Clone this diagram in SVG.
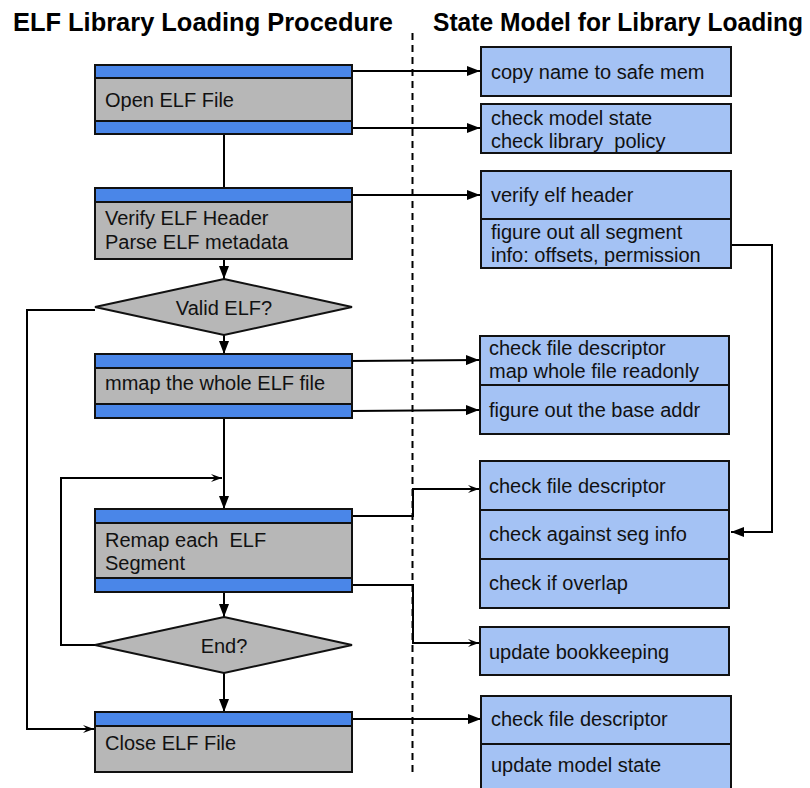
<svg xmlns="http://www.w3.org/2000/svg" width="810" height="788" viewBox="0 0 810 788">
<defs>
<style>
.t{font-family:"Liberation Sans",Arial,sans-serif;font-size:20px;fill:#111}
.title{font-family:"Liberation Sans",Arial,sans-serif;font-size:25px;font-weight:bold;fill:#000}
.g{fill:#b7b7b7;stroke:#111;stroke-width:2}
.b{fill:#4a86e8;stroke:#111;stroke-width:2}
.r{fill:#a4c2f4;stroke:#111;stroke-width:2}
.c{fill:none;stroke:#000;stroke-width:2}
.f{marker-end:url(#fa)}
.o{marker-end:url(#oa)}
</style>
<marker id="fa" markerUnits="userSpaceOnUse" markerWidth="14" markerHeight="10" refX="13" refY="5" orient="auto">
<path d="M0,0 L13,5 L0,10 Z" fill="#000"/>
</marker>
<marker id="oa" markerUnits="userSpaceOnUse" markerWidth="12" markerHeight="10" refX="11" refY="5" orient="auto">
<path d="M0,1 L11,5 L0,9 L4,5 Z" fill="#000"/>
</marker>
</defs>
<rect width="810" height="788" fill="#fff"/>
<text class="title" x="13" y="31" textLength="380" lengthAdjust="spacingAndGlyphs">ELF Library Loading Procedure</text>
<text class="title" x="433" y="31" textLength="370" lengthAdjust="spacingAndGlyphs">State Model for Library Loading</text>
<line x1="412.5" y1="33" x2="412.5" y2="776" stroke="#000" stroke-width="2" stroke-dasharray="7 5"/>

<g id="connectors">
<line class="c" x1="224" y1="134" x2="224" y2="188"/>
<line class="c f" x1="224" y1="259" x2="224" y2="279"/>
<line class="c f" x1="224" y1="335" x2="224" y2="354"/>
<line class="c f" x1="224" y1="418" x2="224" y2="509"/>
<line class="c f" x1="224" y1="592" x2="224" y2="617"/>
<line class="c f" x1="224" y1="673" x2="224" y2="712"/>
<polyline class="c o" points="95,645 61,645 61,478 222,478"/>
<polyline class="c o" points="95,310 27,310 27,729 94,729"/>
<line class="c f" x1="352" y1="71" x2="480" y2="71"/>
<line class="c f" x1="352" y1="128" x2="480" y2="128"/>
<line class="c f" x1="352" y1="195" x2="480" y2="195"/>
<line class="c f" x1="352" y1="361" x2="479" y2="360"/>
<line class="c f" x1="352" y1="411" x2="479" y2="410"/>
<polyline class="c o" points="352,516 413,516 413,489 479,489"/>
<polyline class="c o" points="352,585 413,585 413,643 479,643"/>
<line class="c f" x1="352" y1="719" x2="481" y2="719"/>
<polyline class="c f" points="731,245 772,245 772,532 731,532"/>
</g>

<g id="open-elf">
<rect class="g" x="95" y="65" width="257" height="69"/>
<rect class="b" x="95" y="65" width="257" height="13"/>
<rect class="b" x="95" y="121" width="257" height="13"/>
<text class="t" x="105" y="107">Open ELF File</text>
</g>
<g id="verify-elf">
<rect class="g" x="95" y="188" width="257" height="71"/>
<rect class="b" x="95" y="188" width="257" height="14"/>
<text class="t" x="105" y="225">Verify ELF Header</text>
<text class="t" x="105" y="249">Parse ELF metadata</text>
</g>
<g id="valid-elf">
<polygon class="g" points="224,279 352,307 224,335 95,307"/>
<text class="t" x="224" y="315" text-anchor="middle">Valid ELF?</text>
</g>
<g id="mmap">
<rect class="g" x="95" y="354" width="257" height="64"/>
<rect class="b" x="95" y="354" width="257" height="14"/>
<rect class="b" x="95" y="404" width="257" height="14"/>
<text class="t" x="105" y="390">mmap the whole ELF file</text>
</g>
<g id="remap">
<rect class="g" x="95" y="509" width="257" height="83"/>
<rect class="b" x="95" y="509" width="257" height="14"/>
<rect class="b" x="95" y="578" width="257" height="14"/>
<text class="t" x="105" y="547" xml:space="preserve">Remap each  ELF</text>
<text class="t" x="105" y="570">Segment</text>
</g>
<g id="end">
<polygon class="g" points="224,617 352,645 224,673 95,645"/>
<text class="t" x="224" y="653" text-anchor="middle">End?</text>
</g>
<g id="close-elf">
<rect class="g" x="95" y="712" width="257" height="60"/>
<rect class="b" x="95" y="712" width="257" height="14"/>
<text class="t" x="105" y="750">Close ELF File</text>
</g>

<g id="copy-name">
<rect class="r" x="481" y="47" width="250" height="49"/>
<text class="t" x="491" y="79">copy name to safe mem</text>
</g>
<g id="check-model">
<rect class="r" x="481" y="104" width="250" height="49"/>
<text class="t" x="491" y="125">check model state</text>
<text class="t" x="491" y="148" xml:space="preserve">check library  policy</text>
</g>
<g id="verify-header">
<rect class="r" x="481" y="171" width="250" height="48"/>
<rect class="r" x="481" y="219" width="250" height="49"/>
<text class="t" x="491" y="202">verify elf header</text>
<text class="t" x="491" y="239">figure out all segment</text>
<text class="t" x="491" y="262">info: offsets, permission</text>
</g>
<g id="map-file">
<rect class="r" x="480" y="336" width="249" height="49"/>
<rect class="r" x="480" y="385" width="249" height="49"/>
<text class="t" x="489" y="355">check file descriptor</text>
<text class="t" x="489" y="378">map whole file readonly</text>
<text class="t" x="489" y="417">figure out the base addr</text>
</g>
<g id="seg-checks">
<rect class="r" x="480" y="461" width="249" height="49"/>
<rect class="r" x="480" y="510" width="249" height="49"/>
<rect class="r" x="480" y="559" width="249" height="49"/>
<text class="t" x="489" y="493">check file descriptor</text>
<text class="t" x="489" y="541">check against seg info</text>
<text class="t" x="489" y="590">check if overlap</text>
</g>
<g id="bookkeeping">
<rect class="r" x="480" y="627" width="249" height="48"/>
<text class="t" x="489" y="659">update bookkeeping</text>
</g>
<g id="close-state">
<rect class="r" x="481" y="696" width="250" height="48"/>
<rect class="r" x="481" y="744" width="250" height="50"/>
<text class="t" x="491" y="726">check file descriptor</text>
<text class="t" x="491" y="772">update model state</text>
</g>
</svg>
